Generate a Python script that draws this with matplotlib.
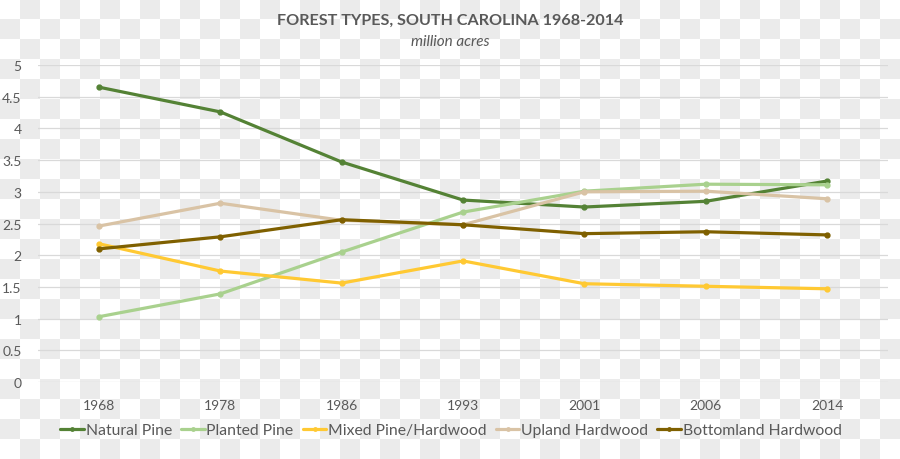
import numpy as np
import matplotlib
matplotlib.use('Agg')
import matplotlib.pyplot as plt

plt.rcParams['font.family'] = ['Lato', 'DejaVu Sans']

years = ['1968', '1978', '1986', '1993', '2001', '2006', '2014']
natural_pine = [4.65, 4.26, 3.47, 2.87, 2.76, 2.85, 3.17]
planted_pine = [1.03, 1.39, 2.05, 2.68, 3.01, 3.12, 3.11]
mixed_pine_hardwood = [2.18, 1.75, 1.56, 1.91, 1.55, 1.51, 1.47]
upland_hardwood = [2.46, 2.82, 2.55, 2.48, 3.00, 3.01, 2.89]
bottomland_hardwood = [2.10, 2.29, 2.56, 2.48, 2.34, 2.37, 2.32]

series = [
    ('Natural Pine', natural_pine, '#548235'),
    ('Planted Pine', planted_pine, '#a9d18e'),
    ('Mixed Pine/Hardwood', mixed_pine_hardwood, '#ffc933'),
    ('Upland Hardwood', upland_hardwood, '#d9c3a5'),
    ('Bottomland Hardwood', bottomland_hardwood, '#7f6000'),
]

fig = plt.figure(figsize=(9, 4.6), dpi=100)

# checkerboard background (transparent png look)
ii, jj = np.indices((460, 900))
chk = np.where((ii // 20 + jj // 20) % 2 == 1, 0.922, 1.0)
bg = np.dstack([chk, chk, chk])
fig.figimage(bg, 0, 0, origin='upper', zorder=-1)

ax = fig.add_axes([0.0427, 0.1674, 0.9436, 0.6891])
ax.set_facecolor('none')

x = np.arange(len(years))
for name, vals, col in series:
    ax.plot(x, vals, color=col, lw=2.3, marker='o', ms=3.5, label=name,
            solid_capstyle='round')

ax.set_xlim(-0.5, len(years) - 0.5)
ax.set_ylim(0, 5)
ax.set_yticks(np.arange(0, 5.01, 0.5))
ax.set_yticklabels(['0', '0.5', '1', '1.5', '2', '2.5', '3', '3.5', '4', '4.5', '5'])
ax.set_xticks(x)
ax.set_xticklabels(years)
ax.grid(axis='y', color='#d9d9d9', lw=0.9)
ax.set_axisbelow(True)
for s in ax.spines.values():
    s.set_visible(False)
ax.tick_params(axis='both', length=0, labelsize=10, labelcolor='#595959')
ax.tick_params(axis='y', pad=12)
ax.tick_params(axis='x', pad=12)

fig.text(0.5, 0.955, 'FOREST TYPES, SOUTH CAROLINA 1968-2014', ha='center', va='center',
         fontsize=11.6, fontweight='bold', color='#595959')
fig.text(0.5, 0.908, 'million acres', ha='center', va='center',
         fontsize=11, fontstyle='italic', color='#595959')

leg = fig.legend(loc='center', bbox_to_anchor=(0.501, 0.063), ncol=5, frameon=False,
                 fontsize=11.3, handlelength=1.5, handletextpad=0.1, columnspacing=0.6,
                 markerscale=0.7, labelcolor='#595959')

fig.savefig('out.png', dpi=100)
